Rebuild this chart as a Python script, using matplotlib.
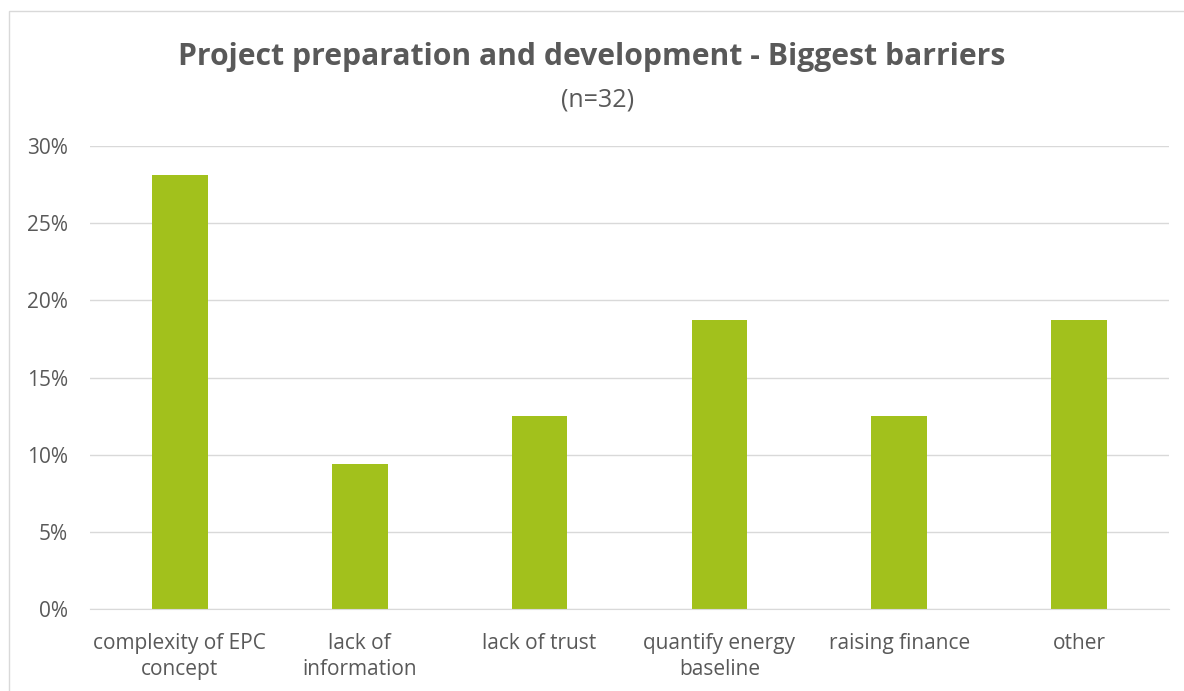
import matplotlib
matplotlib.use("Agg")
import matplotlib.pyplot as plt
from matplotlib.patches import Rectangle
from matplotlib.ticker import PercentFormatter

# survey answers (n=32), share of respondents
barriers = ["complexity of EPC\nconcept", "lack of\ninformation", "lack of trust",
            "quantify energy\nbaseline", "raising finance", "other"]
shares = [28.125, 9.375, 12.5, 18.75, 12.5, 18.75]

plt.rcParams['font.family'] = ['Open Sans', 'DejaVu Sans']
txt = '#595959'
grid = '#d9d9d9'

fig = plt.figure(figsize=(11.84, 6.91), dpi=100)
ax = fig.add_axes([90/1184, 1 - 609/691, (1169-90)/1184, (609-146)/691])

x = range(len(barriers))
ax.bar(x, shares, width=0.31, color='#a2c11c', zorder=3)

ax.set_xlim(-0.5, len(barriers) - 0.5)
ax.set_ylim(0, 30)
ax.set_yticks(range(0, 31, 5))
ax.yaxis.set_major_formatter(PercentFormatter(decimals=0))
ax.set_xticks(list(x))
ax.set_xticklabels(barriers, linespacing=1.3)

ax.grid(axis='y', color=grid, linewidth=1, zorder=0)
for side in ['top', 'right', 'left']:
    ax.spines[side].set_visible(False)
ax.spines['bottom'].set_color(grid)
ax.spines['bottom'].set_zorder(4)
ax.tick_params(axis='both', length=0, labelsize=15, colors=txt)
ax.tick_params(axis='x', pad=17.5)
ax.tick_params(axis='y', pad=16)

fig.text(0.5, 1 - 57/691, "Project preparation and development - Biggest barriers",
         ha='center', va='center', fontsize=21.7, fontweight='bold', color=txt)
fig.text(0.505, 1 - 100/691, "(n=32)", ha='center', va='center', fontsize=18, color=txt)

# chart frame
fig.patches.append(Rectangle((9/1184, -0.1), 1.2, 0.1 + (691-11)/691, transform=fig.transFigure,
                             fill=False, edgecolor=grid, linewidth=1))

fig.savefig("out.png", dpi=100)
